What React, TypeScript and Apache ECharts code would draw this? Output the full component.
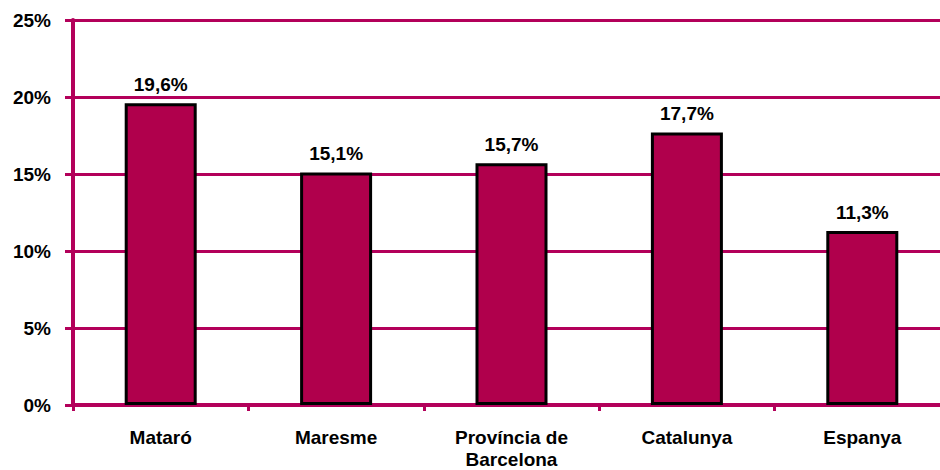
import React, { useEffect, useRef } from "react";
import * as echarts from "echarts";

const categories = ["Mataró", "Maresme", "Província de\nBarcelona", "Catalunya", "Espanya"];
const values = [19.6, 15.1, 15.7, 17.7, 11.3];
const yTicks = { min: 0, max: 25, interval: 5 };

const MAROON = "#B3005A";
const BAR = "#B0004C";
const FONT = "'Liberation Sans', Arial, sans-serif";

export default function App() {
  const ref = useRef<HTMLDivElement>(null);
  useEffect(() => {
    if (!ref.current) return;
    const chart = echarts.init(ref.current, undefined, { renderer: "svg" });
    chart.setOption({
      animation: false,
      grid: { left: 73, right: 0, top: 20, bottom: 65, outerBoundsMode: "none", containLabel: false },
      xAxis: {
        type: "category",
        data: categories,
        axisLine: { show: true, lineStyle: { color: MAROON, width: 4 } },
        axisTick: { show: true, length: 6, lineStyle: { color: MAROON, width: 3 } },
        axisLabel: {
          color: "#000",
          fontFamily: FONT,
          fontWeight: "bold",
          fontSize: 19,
          lineHeight: 22,
          margin: 21,
          interval: 0,
        },
      },
      yAxis: {
        type: "value",
        min: yTicks.min,
        max: yTicks.max,
        interval: yTicks.interval,
        axisLine: { show: true, lineStyle: { color: MAROON, width: 4 } },
        axisTick: { show: true, length: 8, lineStyle: { color: MAROON, width: 3 } },
        splitLine: { show: true, lineStyle: { color: MAROON, width: 3 } },
        axisLabel: {
          formatter: "{value}%",
          color: "#000",
          fontFamily: FONT,
          fontWeight: "bold",
          fontSize: 19,
          margin: 22,
        },
      },
      series: [
        {
          type: "bar",
          data: values,
          barWidth: 72,
          itemStyle: { color: BAR, borderColor: "#000", borderWidth: 3 },
          label: {
            show: true,
            position: "top",
            distance: 9,
            color: "#000",
            fontFamily: FONT,
            fontWeight: "bold",
            fontSize: 19,
            formatter: (p: any) => String(p.value).replace(".", ",") + "%",
          },
        },
      ],
    });
    return () => chart.dispose();
  }, []);
  return (
    <div style={{ position: "absolute", left: 0, top: 0, width: 940, height: 470, overflow: "hidden", background: "#fff" }}>
      <div ref={ref} style={{ width: 950, height: 470 }} />
    </div>
  );
}
